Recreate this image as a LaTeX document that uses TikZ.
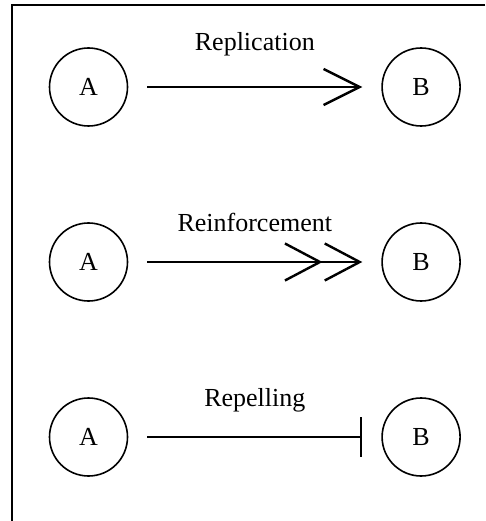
\documentclass[tikz,border=0pt]{standalone}
\usepackage{fontspec}
\setmainfont{Liberation Serif}
\usetikzlibrary{positioning,arrows.meta}
\tikzset{
  agent/.style={draw,circle,line width=1.6pt,minimum size=78pt,inner sep=0pt,font=\fontsize{26}{30}\selectfont},
  lbl/.style={inner sep=0pt,anchor=base,font=\fontsize{26}{30}\selectfont},
  link/.style={line width=2.4pt,shorten <=19pt,shorten >=19pt},
  replicate/.style={link,-{Straight Barb[length=36pt,width=36pt]}},
  reinforce/.style={link,-{Straight Barb[length=35pt,width=37pt,sep=1pt]Straight Barb[length=35pt,width=37pt]}},
  repel/.style={link,-{Bar[width=40pt]}},
  frame/.style={line width=2pt}}

\begin{document}
\begin{tikzpicture}[x=1pt,y=-1pt,node distance=253pt]
  \useasboundingbox (0,0) rectangle (485,521);
  \draw[frame] (485,5) -- (11.5,5) -- (11.5,521);
  % row 1
  \node[agent] (a1) at (88.5,87) {A};
  \node[agent,right=of a1] (b1) {B};
  \draw[replicate] (a1) -- (b1) node[lbl,midway,yshift=36pt] {Replication};
  % row 2
  \node[agent] (a2) at (88.5,262) {A};
  \node[agent,right=of a2] (b2) {B};
  \draw[reinforce] (a2) -- (b2) node[lbl,midway,yshift=31pt] {Reinforcement};
  % row 3
  \node[agent] (a3) at (88.5,437) {A};
  \node[agent,right=of a3] (b3) {B};
  \draw[repel] (a3) -- (b3) node[lbl,midway,yshift=31pt] {Repelling};
\end{tikzpicture}
\end{document}
